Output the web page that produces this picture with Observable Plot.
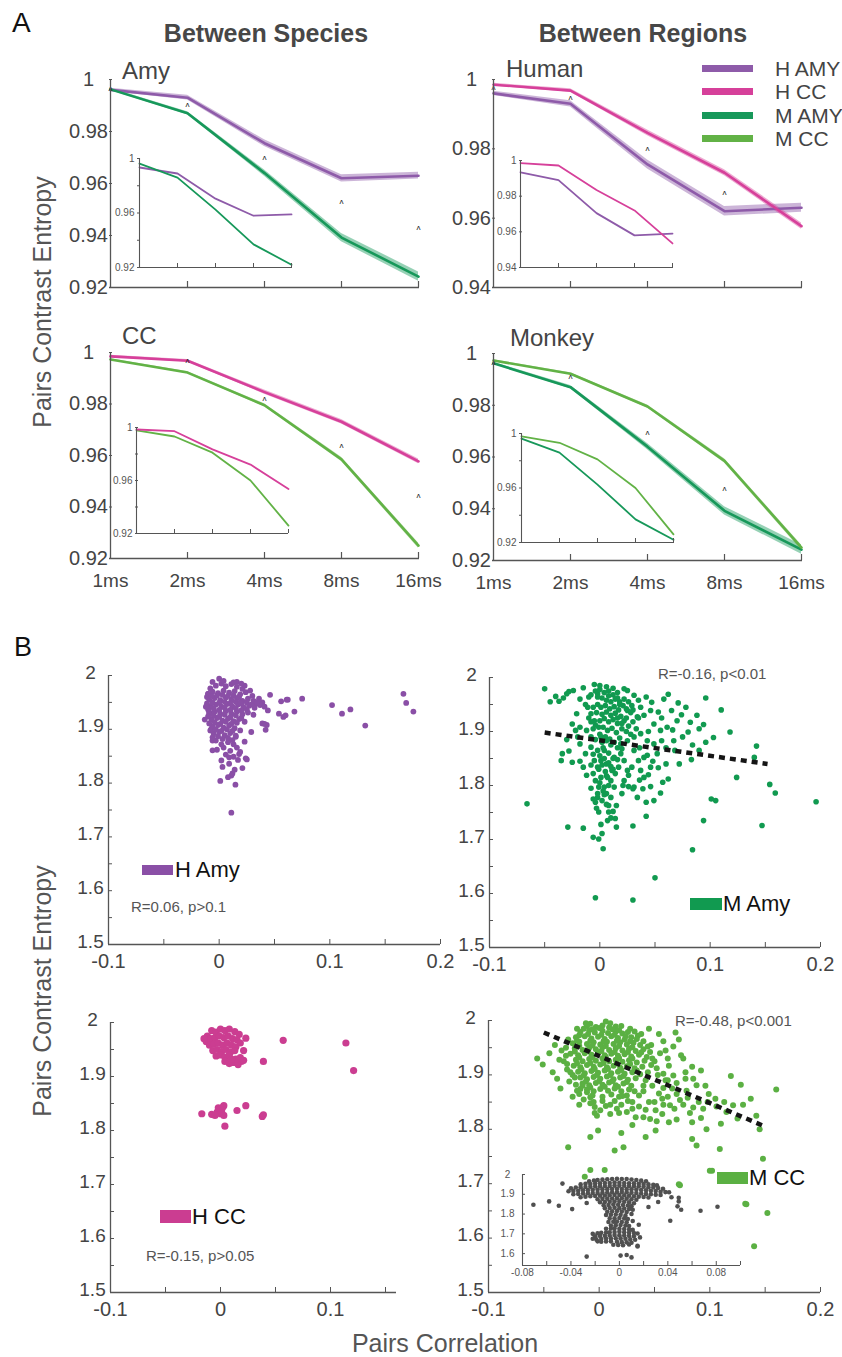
<!DOCTYPE html>
<html><head><meta charset="utf-8">
<script src="https://cdn.jsdelivr.net/npm/d3@7"></script>
<script src="https://cdn.jsdelivr.net/npm/@observablehq/plot@0.6"></script>
<style>
body{margin:0;background:#fff}
#root{position:relative;width:842px;height:1357px;overflow:hidden;background:#fff;font-family:"Liberation Sans",Arial,sans-serif}
.lbl{position:absolute;white-space:nowrap;line-height:1}
.sw{position:absolute}
</style></head>
<body><div id="root"></div>
<script>
// ---------------- DATA ----------------
const times = ["1ms","2ms","4ms","8ms","16ms"];
// panel A main series (mean) and confidence half-width
const hAmyMean = [0.996, 0.993, 0.9755, 0.962, 0.963];
const hAmyCI   = [0.0006, 0.0009, 0.0013, 0.0014, 0.0013];
const hCCMean  = [0.9985, 0.9968, 0.9846, 0.9731, 0.9577];
const hCCCI    = [0.0004, 0.0005, 0.0008, 0.0009, 0.0009];
const mAmyMean = [0.9962, 0.987, 0.964, 0.9392, 0.9242];
const mAmyCI   = [0.0004, 0.0006, 0.0012, 0.0016, 0.0018];
const mCCMean  = [0.9973, 0.9922, 0.9795, 0.9585, 0.925];
const mCCCI    = [0.0003, 0.0004, 0.0006, 0.0008, 0.0010];
// panel A insets
const hAmyInset = [0.9934, 0.989, 0.9705, 0.958, 0.959];
const hCCInset  = [0.9985, 0.9972, 0.9835, 0.972, 0.9535];
const mAmyInset = [0.9963, 0.986, 0.9625, 0.937, 0.922];
const mCCInset  = [0.9979, 0.9932, 0.981, 0.960, 0.926];
// significance markers
const sigAmy    = [["1ms",0.9965],["2ms",0.9904],["4ms",0.970],["8ms",0.953],["16ms",0.943]];
const sigHuman  = [["1ms",0.9977],["2ms",0.9948],["4ms",0.980],["8ms",0.9675]];
const sigCC     = [["2ms",0.9969],["4ms",0.982],["8ms",0.964],["16ms",0.9445]];
const sigMonkey = [["1ms",0.9965],["2ms",0.991],["4ms",0.9695],["8ms",0.948]];
// tick values
const yTicksA = [0.92, 0.94, 0.96, 0.98, 1];
const yTicksHuman = [0.94, 0.96, 0.98, 1];
const yInsetLabA = [0.92, 0.96, 1];
const yTicksB = [1.5, 1.6, 1.7, 1.8, 1.9, 2];
const yMinorB = [1.5,1.55,1.6,1.65,1.7,1.75,1.8,1.85,1.9,1.95,2];
const xTicksB = [-0.1, 0, 0.1, 0.2];
const xTicksHCC = [-0.1, 0, 0.1];
const xMinorB = [-0.05, 0, 0.05, 0.1, 0.15, 0.2];
const xMinorHCC = [-0.05, 0, 0.05, 0.1, 0.15];
const xTicksInset = [-0.08, -0.04, 0, 0.04, 0.08];
const xMinorInset = [-0.06,-0.04,-0.02,0,0.02,0.04,0.06,0.08,0.1];
const yTicksInset = [1.6, 1.7, 1.8, 1.9, 2];

// panel B scatter points [correlation, entropy]
const hAmyPts = [
[0.1665,1.966],[0.169,1.949],[0.1755,1.933],[0.132,1.907],[0.102,1.945],[0.111,1.929],[0.1186,1.937],[0.075,1.957],[0.068,1.933],[0.062,1.955],[0.056,1.952],[0.046,1.964],[0.058,1.923],[0.054,1.929],[0.042,1.899],[0.043,1.908],[0.039,1.911],[0.029,1.895],[0.025,1.844],[0.021,1.828],[0.0147,1.797],[0.011,1.814],[0.008,1.811],[0.001,1.804],[0.011,1.745],[0.002,1.842],[-0.006,1.861],[0.018,1.854],[0.009,1.848],[0.023,1.877],[0.015,1.888],[0.044,1.935],[0.039,1.950],[0.033,1.947],[0.023,1.981],[0.016,1.988],[0.000,1.994],[-0.010,1.966],[-0.009,1.932],[-0.007,1.901],[-0.006,1.879],
[0.024,1.846],[0.041,1.910],[0.060,1.926],[0.061,1.955],[0.035,1.950],[0.012,1.818],
[-0.008,1.976],[-0.003,1.981],[0.002,1.985],[0.006,1.980],[0.011,1.984],[0.016,1.979],[0.021,1.975],
[-0.010,1.966],[-0.006,1.970],[-0.001,1.967],[0.004,1.972],[0.009,1.968],[0.014,1.971],[0.019,1.965],[0.024,1.969],
[-0.009,1.955],[-0.004,1.958],[0.001,1.954],[0.006,1.959],[0.011,1.955],[0.016,1.958],[0.021,1.953],[0.026,1.957],[0.031,1.953],[0.036,1.957],
[-0.008,1.943],[-0.003,1.946],[0.002,1.942],[0.007,1.947],[0.012,1.942],[0.017,1.946],[0.022,1.941],[0.027,1.944],[0.032,1.940],[0.037,1.945],[0.041,1.942],
[-0.009,1.930],[-0.004,1.933],[0.001,1.929],[0.006,1.934],[0.011,1.929],[0.016,1.933],[0.021,1.928],[0.026,1.931],[0.031,1.927],
[-0.007,1.918],[-0.002,1.921],[0.003,1.916],[0.008,1.920],[0.013,1.915],[0.018,1.919],[0.023,1.914],
[-0.006,1.905],[-0.001,1.908],[0.004,1.903],[0.009,1.907],[0.014,1.902],[0.019,1.898],
[-0.005,1.892],[0.000,1.895],[0.005,1.889],[0.010,1.893],[0.015,1.886],
[-0.003,1.879],[0.003,1.882],[0.008,1.876],[0.013,1.872],[0.004,1.866],[-0.002,1.862],[0.010,1.860],[0.016,1.866],[0.006,1.853],[0.013,1.849],[0.019,1.858],
[-0.006,1.988],[0.004,1.990],[0.013,1.987],[-0.011,1.960],[-0.007,1.962],[-0.002,1.963],[0.003,1.964],[0.008,1.962],[0.013,1.963],[0.018,1.960],[-0.011,1.948],[-0.006,1.950],[0.000,1.949],[0.005,1.951],[0.010,1.948],[0.015,1.951],[0.020,1.948],[0.025,1.950],[-0.010,1.937],[-0.005,1.939],[0.000,1.936],[0.005,1.940],[0.010,1.936],[0.015,1.939],[0.020,1.935],[0.025,1.937],[-0.010,1.924],[-0.005,1.926],[0.000,1.923],[0.005,1.927],[0.010,1.922],[0.015,1.926],[0.020,1.921],[-0.009,1.911],[-0.004,1.913],[0.001,1.910],[0.006,1.914],[0.011,1.910],[0.016,1.912],[-0.008,1.898],[-0.003,1.900],[0.002,1.897],[0.007,1.900],[0.012,1.897],[-0.006,1.885],[-0.001,1.887],[0.008,1.884],[0.012,1.880],[0.019,1.950],[0.029,1.946],[0.034,1.950],[0.030,1.962],[0.028,1.972],[0.020,1.985],[-0.012,1.942],[-0.013,1.918],[0.002,1.872],[0.017,1.843],[0.009,1.836],[0.003,1.830],[0.014,1.825]
];
const mAmyPts = [
[-0.050,1.979],[-0.066,1.766],[-0.037,1.956],[-0.030,1.970],[-0.028,1.974],[-0.024,1.976],[-0.015,1.981],[-0.005,1.987],
[-0.034,1.859],[-0.035,1.846],[-0.028,1.864],[-0.025,1.843],[-0.029,1.723],[-0.015,1.721],[-0.018,1.845],[-0.015,1.834],[-0.012,1.819],[-0.006,1.704],[-0.001,1.701],[0.003,1.683],[-0.004,1.592],[0.030,1.588],[0.050,1.629],[0.084,1.681],[0.094,1.735],[0.147,1.726],[0.196,1.770],[0.154,1.802],[0.159,1.786],[0.101,1.775],[0.105,1.772],[0.124,1.815],[0.142,1.873],[0.140,1.852],[0.118,1.899],[0.110,1.940],[0.096,1.962],[0.103,1.889],[0.094,1.913],[0.096,1.880],[0.082,1.917],[0.080,1.899],[0.083,1.848],[0.074,1.931],[0.071,1.953],[0.062,1.969],[0.065,1.939],[0.067,1.883],[0.066,1.903],[0.068,1.865],[0.062,1.812],[0.057,1.806],[0.055,1.786],[0.053,1.833],[0.049,1.772],[0.042,1.769],[0.042,1.743],[0.046,1.798],[0.039,1.794],[0.030,1.725],[0.030,1.794],[0.021,1.800],[0.015,1.763],[0.015,1.723],[0.014,1.739],[0.010,1.740],[0.008,1.763],[0.008,1.751],[0.006,1.785],[0.004,1.783],[0.001,1.728],[-0.001,1.751],[-0.003,1.758],[-0.004,1.769],[-0.006,1.775],[0.007,1.735],[0.002,1.711],
[0.049,1.914],[0.049,1.877],[0.053,1.936],[0.046,1.939],[0.047,1.954],[0.042,1.964],[0.031,1.967],[0.025,1.976],[0.022,1.979],[0.037,1.945],[0.034,1.927],[0.029,1.948],[0.025,1.939],[0.040,1.852],[0.043,1.856],[0.035,1.846],[0.029,1.834],[0.025,1.828],[0.022,1.846],[0.031,1.865],[0.019,1.877],[0.013,1.852],[0.011,1.828],[0.007,1.815],[0.001,1.815],[0.001,1.846],[0.004,1.865],[0.006,1.883],[0.001,1.890],[-0.001,1.908],[-0.005,1.920],[-0.018,1.908],[-0.021,1.933],[-0.025,1.914],[-0.022,1.902],[-0.010,1.964],[-0.011,1.945],[-0.008,1.933],[-0.002,1.970],
[-0.018,1.877],[-0.013,1.859],[-0.008,1.871],[-0.005,1.846],[-0.002,1.834],[-0.004,1.809],[-0.001,1.797],[-0.002,1.785],[0.002,1.772],[0.004,1.797],[0.010,1.809],[0.014,1.822],[0.017,1.834],[0.022,1.809],[0.026,1.819],[0.013,1.797],[0.019,1.859],[0.025,1.883],[0.031,1.890],[0.037,1.896],[0.043,1.883],[0.055,1.902],[0.056,1.883],[0.061,1.908],[0.052,1.859],[0.046,1.834],[0.040,1.815],[0.037,1.828],[0.031,1.797],[0.034,1.778],
[-0.004,1.975],[0.000,1.978],[0.004,1.972],[0.008,1.975],[0.012,1.968],[0.016,1.972],[0.002,1.962],[0.006,1.958],[0.010,1.955],[0.014,1.960],[0.018,1.955],[-0.002,1.950],[0.001,1.945],[0.005,1.948],[0.009,1.942],[0.013,1.946],[0.017,1.940],[0.021,1.948],[-0.003,1.935],[0.002,1.932],[0.006,1.936],[0.010,1.930],[0.014,1.934],[0.019,1.928],[0.000,1.920],[0.004,1.924],[0.008,1.918],[0.012,1.922],[0.016,1.915],[0.022,1.920],[-0.006,1.905],[0.003,1.908],[0.007,1.902],[0.011,1.906],[0.015,1.898],[0.020,1.905],[0.026,1.910],[0.000,1.895],[0.005,1.890],[0.009,1.886],[0.013,1.880],[0.018,1.888],[-0.008,1.890],[0.024,1.925],[0.028,1.935],[0.030,1.918],[0.033,1.905],[-0.010,1.925],[-0.013,1.950],[0.035,1.958],[0.003,1.870],[0.008,1.860],[-0.002,1.865],[0.012,1.850],[0.006,1.840],[-0.001,1.830],[0.005,1.826],[0.010,1.835],
[0.000,1.985],[0.006,1.983],[0.012,1.980],[-0.008,1.968],[-0.002,1.964],[0.008,1.966],[0.016,1.962],[0.022,1.960],[0.026,1.955],[-0.006,1.945],[0.018,1.950],[0.024,1.942],[0.030,1.940],[-0.008,1.918],[-0.004,1.912],[0.016,1.925],[0.020,1.915],[0.024,1.900],[0.028,1.895],[-0.004,1.885],[0.002,1.880],[0.010,1.875],[0.016,1.870],[0.020,1.868],[-0.006,1.858],[0.000,1.855],[0.004,1.850],[0.016,1.848],[0.008,1.842],[-0.008,1.838],[0.002,1.838],[0.012,1.830],[-0.006,1.822],[0.006,1.818],[0.000,1.805],[0.008,1.800],[-0.008,1.795],[0.003,1.790],[-0.002,1.778],[0.010,1.778],[0.006,1.765],[0.012,1.752],[0.020,1.785],[0.026,1.798],[0.036,1.810],[0.044,1.820],[0.048,1.845],[0.036,1.870],[0.044,1.900],[0.040,1.930],[0.035,1.925],[-0.040,1.965],[-0.033,1.962],[-0.045,1.955],[-0.018,1.960],[-0.020,1.890],[-0.030,1.885],[-0.012,1.902],[0.058,1.960],[0.056,1.925],[0.060,1.870],[0.070,1.920],[0.078,1.945],[0.088,1.930],[0.090,1.905],[0.075,1.890],[0.084,1.875],[0.072,1.840],[0.090,1.865],[0.060,1.840]
];
const hCCPts = [
[0.057,1.967],[0.114,1.962],[0.121,1.911],[0.039,1.928],[0.023,1.971],[0.021,1.948],
[-0.017,1.831],[-0.008,1.830],[-0.003,1.834],[0.002,1.843],[0.000,1.831],[0.004,1.808],[0.015,1.837],[0.023,1.846],[0.038,1.826],[0.039,1.829],[-0.002,1.842],[0.001,1.836],[0.003,1.828],[-0.005,1.828],[0.003,1.846],
[-0.012,1.975],[-0.008,1.985],[-0.004,1.982],[0.000,1.988],[0.004,1.985],[0.008,1.988],[0.013,1.983],[0.017,1.978],[-0.013,1.965],[-0.009,1.970],[-0.005,1.972],[-0.001,1.975],[0.003,1.972],[0.007,1.975],[0.011,1.970],[0.015,1.968],[-0.010,1.958],[-0.006,1.960],[-0.002,1.962],[0.002,1.958],[0.006,1.962],[0.010,1.958],[0.014,1.955],[-0.007,1.948],[-0.003,1.950],[0.001,1.946],[0.005,1.950],[0.009,1.945],[0.013,1.948],[-0.004,1.938],[0.000,1.940],[0.004,1.936],[0.008,1.940],[0.004,1.928],[0.008,1.924],[0.012,1.926],[0.016,1.922],[0.019,1.928],[0.014,1.932],[0.010,1.932],[0.018,1.935],[0.021,1.930],[-0.015,1.970],[0.018,1.962]
];
const mCCPts = [
[-0.056,1.930],[-0.051,1.919],[-0.038,1.893],[-0.027,1.888],[-0.036,1.928],[-0.034,1.945],[-0.029,1.920],[-0.026,1.905],[-0.028,1.767],[-0.008,1.786],[-0.001,1.798],[0.014,1.761],[0.022,1.767],[0.020,1.793],[0.042,1.786],[0.016,1.838],[-0.002,1.825],[0.001,1.835],[-0.004,1.841],[-0.008,1.859],[-0.011,1.868],[-0.017,1.874],[-0.020,1.871],
[0.051,1.798],[0.046,1.819],[0.042,1.836],[0.051,1.835],[0.057,1.828],[0.063,1.813],[0.064,1.844],[0.057,1.856],[0.058,1.876],[0.073,1.854],[0.084,1.782],[0.088,1.770],[0.084,1.813],[0.092,1.821],[0.090,1.850],[0.079,1.871],[0.078,1.893],[0.070,1.885],[0.067,1.899],[0.063,1.917],[0.076,1.930],[0.074,1.936],[0.067,1.952],[0.060,1.945],[0.069,1.978],[0.085,1.893],[0.088,1.881],[0.099,1.865],[0.105,1.856],[0.109,1.764],[0.119,1.898],[0.128,1.882],[0.113,1.850],[0.121,1.844],[0.137,1.856],[0.142,1.825],[0.160,1.873],[0.148,1.746],[0.102,1.724],[0.073,1.697],[0.005,1.725],[-0.008,1.725],[-0.013,1.713],[0.132,1.663],[0.072,1.699],[0.100,1.724],[0.133,1.662],[0.152,1.646],[0.140,1.585],
[0.030,1.850],[0.036,1.842],[0.025,1.832],[0.033,1.822],[0.045,1.850],[0.040,1.870],[0.048,1.880],[0.053,1.900],[0.050,1.925],[0.055,1.940],[0.047,1.955],[0.060,1.890],[0.010,1.845],[0.003,1.852],[-0.005,1.850],[0.018,1.860],[0.025,1.862],[-0.015,1.880],[-0.022,1.895],[-0.030,1.950],[-0.028,1.965],[-0.020,1.985],[0.010,1.995],[-0.008,1.994],[0.028,1.985],[0.035,1.972],
[-0.011,1.990],[-0.003,1.988],[0.003,1.991],[0.009,1.987],[0.015,1.989],
[-0.017,1.979],[-0.009,1.982],[-0.004,1.978],[0.003,1.981],[0.008,1.977],[0.015,1.980],[0.021,1.976],[0.026,1.979],
[-0.021,1.969],[-0.013,1.971],[-0.007,1.967],[-0.001,1.970],[0.005,1.966],[0.011,1.971],[0.017,1.968],[0.023,1.965],[0.029,1.969],[0.034,1.966],
[-0.024,1.958],[-0.018,1.961],[-0.011,1.957],[-0.005,1.960],[0.001,1.956],[0.007,1.961],[0.013,1.957],[0.019,1.960],[0.025,1.956],[0.031,1.959],[0.037,1.955],
[-0.022,1.949],[-0.015,1.946],[-0.009,1.950],[-0.003,1.947],[0.003,1.951],[0.009,1.946],[0.015,1.949],[0.021,1.945],[0.027,1.948],[0.033,1.944],[0.040,1.947],
[-0.026,1.939],[-0.019,1.936],[-0.013,1.940],[-0.007,1.937],[-0.001,1.941],[0.005,1.936],[0.011,1.939],[0.017,1.935],[0.023,1.938],[0.029,1.934],[0.036,1.937],[0.043,1.933],
[-0.021,1.928],[-0.015,1.925],[-0.009,1.929],[-0.003,1.926],[0.003,1.930],[0.009,1.925],[0.015,1.928],[0.021,1.924],[0.027,1.927],[0.034,1.923],[0.041,1.926],
[-0.023,1.917],[-0.017,1.914],[-0.011,1.918],[-0.005,1.915],[0.001,1.919],[0.007,1.914],[0.013,1.917],[0.019,1.913],[0.025,1.916],[0.032,1.912],[0.039,1.915],
[-0.019,1.906],[-0.013,1.903],[-0.007,1.907],[-0.001,1.904],[0.005,1.908],[0.011,1.903],[0.017,1.906],[0.023,1.902],[0.030,1.905],[0.037,1.901],
[-0.017,1.895],[-0.011,1.892],[-0.005,1.896],[0.001,1.893],[0.007,1.897],[0.013,1.892],[0.019,1.895],[0.026,1.891],[0.033,1.894],
[-0.015,1.884],[-0.009,1.881],[-0.003,1.885],[0.003,1.882],[0.009,1.886],[0.015,1.881],[0.022,1.884],[0.029,1.880],
[-0.011,1.873],[-0.005,1.870],[0.001,1.874],[0.008,1.871],[0.014,1.875],[0.020,1.870],[0.027,1.873],
[-0.006,1.862],[0.003,1.860],[0.011,1.864],[0.021,1.861],
[-0.012,1.995],[0.006,1.998],[0.020,1.990],[0.032,1.980],[0.038,1.975],[0.040,1.962],[0.044,1.952],[0.046,1.942],[0.048,1.930],[0.047,1.918],[0.044,1.905],[0.042,1.890],[0.040,1.880],[0.036,1.862],[0.032,1.870],[-0.030,1.935],[-0.032,1.925],[-0.029,1.910],[-0.024,1.900],[-0.021,1.882],[-0.018,1.865],[-0.014,1.855],[-0.008,1.848],[0.006,1.843],[0.014,1.852],[0.020,1.845],[0.026,1.852],[0.030,1.838],[0.018,1.830],[0.010,1.828],[-0.004,1.830],[0.052,1.912],[0.058,1.902],[0.062,1.890],[0.066,1.875],[0.070,1.865],[0.062,1.860],[0.054,1.866],[0.050,1.850],[0.058,1.845],[0.068,1.838],[0.076,1.845],[0.080,1.858],[0.085,1.840],[0.082,1.830],[0.094,1.838],[0.098,1.850],[0.106,1.842],[0.096,1.880],[0.092,1.908],[0.084,1.915],[0.062,1.930],[0.058,1.962],[0.054,1.975],[0.045,1.985],[0.072,1.965],[0.078,1.905],[0.052,1.815],[0.040,1.822],[0.070,1.818],[0.030,1.808],[-0.018,1.845],[-0.024,1.860],[-0.035,1.875],[-0.042,1.905],[-0.045,1.940],[-0.040,1.955],[0.115,1.832],[0.125,1.820],[0.130,1.845],[0.097,1.800],[0.110,1.810],[0.145,1.800],
[-0.014,1.985],[-0.006,1.984],[0.000,1.986],[0.012,1.984],[0.018,1.982],[-0.018,1.973],[-0.010,1.975],[0.002,1.974],[0.014,1.974],[0.024,1.971],[-0.020,1.963],[-0.008,1.963],[0.004,1.962],[0.016,1.963],[0.028,1.962],[-0.018,1.953],[-0.006,1.954],[0.006,1.953],[0.018,1.953],[0.030,1.951],[-0.022,1.943],[-0.010,1.944],[0.002,1.944],[0.014,1.942],[0.026,1.942],[0.038,1.941],[-0.018,1.932],[-0.006,1.932],[0.006,1.933],[0.018,1.931],[0.030,1.930],[-0.020,1.921],[-0.008,1.922],[0.004,1.922],[0.016,1.921],[0.028,1.920],[-0.016,1.910],[-0.004,1.911],[0.008,1.911],[0.020,1.909],[0.034,1.908],[-0.014,1.899],[-0.002,1.900],[0.010,1.900],[0.022,1.898],[-0.012,1.888],[0.000,1.889],[0.012,1.889],[0.025,1.887],[-0.008,1.877],[0.005,1.878],[0.017,1.878]
];
const mCCInsetPts = [
[-0.071,1.847],[-0.058,1.864],[-0.050,1.842],[-0.047,1.954],[-0.039,1.825],[-0.027,1.856],[-0.027,1.585],[0.001,1.590],[0.006,1.593],[0.010,1.581],[0.043,1.885],[0.049,1.882],[0.049,1.864],[0.048,1.839],[0.051,1.822],[0.042,1.766],[0.067,1.817],[0.081,1.837],[0.024,1.836],[0.032,1.861],[0.016,1.746],[0.015,1.636],
[-0.025,1.965],[-0.021,1.970],[-0.018,1.972],[-0.014,1.974],[-0.010,1.976],[-0.006,1.977],[-0.002,1.978],[0.002,1.977],[0.006,1.977],[0.010,1.975],[0.014,1.972],[0.018,1.969],[0.022,1.966],
[-0.032,1.950],[-0.028,1.953],[-0.024,1.952],[-0.020,1.955],[-0.016,1.955],[-0.012,1.957],[-0.008,1.957],[-0.004,1.959],[0.000,1.958],[0.004,1.957],[0.008,1.956],[0.012,1.955],[0.016,1.953],[0.020,1.952],[0.024,1.950],[0.028,1.948],[0.031,1.946],
[-0.040,1.930],[-0.036,1.934],[-0.032,1.935],[-0.028,1.937],[-0.024,1.938],[-0.020,1.940],[-0.016,1.940],[-0.012,1.942],[-0.008,1.942],[-0.004,1.944],[0.000,1.944],[0.004,1.943],[0.008,1.942],[0.012,1.941],[0.016,1.940],[0.020,1.938],[0.024,1.936],[0.028,1.934],[0.032,1.932],[0.036,1.928],
[-0.042,1.915],[-0.038,1.917],[-0.034,1.918],[-0.030,1.920],[-0.026,1.921],[-0.022,1.923],[-0.018,1.924],[-0.014,1.925],[-0.010,1.926],[-0.006,1.927],[-0.002,1.928],[0.002,1.927],[0.006,1.926],[0.010,1.925],[0.014,1.924],[0.018,1.922],[0.022,1.920],[0.026,1.918],[0.030,1.916],[0.034,1.913],[0.038,1.911],[0.041,1.910],
[-0.038,1.900],[-0.034,1.902],[-0.030,1.904],[-0.026,1.905],[-0.022,1.906],[-0.018,1.907],[-0.014,1.908],[-0.010,1.909],[-0.006,1.910],[-0.002,1.911],[0.002,1.912],[0.006,1.910],[0.010,1.908],[0.014,1.906],[0.018,1.904],[0.022,1.902],[0.026,1.900],[0.030,1.898],[0.034,1.896],
[-0.032,1.885],[-0.028,1.888],[-0.024,1.890],[-0.020,1.891],[-0.016,1.893],[-0.012,1.894],[-0.008,1.895],[-0.004,1.896],[0.000,1.896],[0.004,1.895],[0.008,1.893],[0.012,1.890],[0.016,1.888],[0.020,1.886],[0.024,1.884],
[-0.018,1.875],[-0.014,1.877],[-0.010,1.878],[-0.006,1.879],[-0.002,1.880],[0.002,1.880],[0.006,1.878],[0.010,1.875],[0.014,1.872],
[-0.016,1.860],[-0.012,1.861],[-0.008,1.862],[-0.004,1.863],[0.000,1.864],[0.004,1.862],[0.008,1.860],[0.012,1.855],
[-0.013,1.845],[-0.009,1.846],[-0.005,1.848],[-0.001,1.847],[0.003,1.846],[0.007,1.843],[0.010,1.840],
[-0.012,1.830],[-0.008,1.831],[-0.004,1.832],[0.000,1.830],[0.004,1.828],[0.008,1.825],[0.011,1.822],
[-0.010,1.812],[-0.006,1.814],[-0.002,1.815],[0.002,1.813],[0.006,1.810],
[-0.011,1.795],[-0.007,1.797],[-0.003,1.798],[0.001,1.796],[0.005,1.792],[0.010,1.800],
[-0.008,1.778],[-0.004,1.779],[0.000,1.780],[0.004,1.778],[0.007,1.775],
[-0.009,1.760],[-0.005,1.761],[-0.002,1.762],[0.002,1.760],[0.006,1.758],[0.011,1.765],
[-0.007,1.742],[-0.003,1.744],[0.001,1.745],[0.005,1.742],[0.008,1.740],
[-0.011,1.726],[-0.007,1.727],[-0.004,1.728],[0.000,1.726],[0.004,1.724],[0.008,1.722],[0.011,1.720],
[-0.022,1.700],[-0.018,1.703],[-0.015,1.705],[-0.011,1.707],[-0.008,1.708],[-0.004,1.709],[0.000,1.710],[0.004,1.708],[0.008,1.706],[0.012,1.704],[0.015,1.702],
[-0.020,1.688],[-0.016,1.689],[-0.012,1.690],[-0.008,1.692],[-0.004,1.694],[0.000,1.693],[0.004,1.692],[0.008,1.690],[0.012,1.688],[0.017,1.682],
[-0.022,1.675],[-0.019,1.672],[-0.015,1.674],[-0.011,1.676],[-0.007,1.677],[-0.003,1.678],[0.001,1.677],[0.005,1.675],[0.009,1.672],[0.013,1.670],
[-0.018,1.662],[-0.015,1.660],[-0.011,1.661],[-0.007,1.662],[-0.002,1.660],[0.002,1.658],[0.006,1.657],[0.010,1.655],
[-0.005,1.645],[-0.001,1.644],[0.003,1.642],[0.008,1.646],[0.015,1.640]
];
const fitMAmy = [[-0.05, 1.898], [0.152, 1.84]];
const fitMCC  = [[-0.05, 1.978], [0.15, 1.805]];

// ---------------- COLOURS / FONTS ----------------
const C = {hAmy:"#8E5BA9", hCC:"#D6409A", mAmy:"#17985A", mCC:"#62B246"};
const CS = {hAmy:"#8A4FA6", hCC:"#CB3D91", mAmy:"#119A50", mCC:"#5BB043", inset:"#505050"};
const AX = "#555";
const NARROW = '"Liberation Sans Narrow","Liberation Sans",Arial,sans-serif';
const REG = '"Liberation Sans",Arial,sans-serif';
const root = document.getElementById("root");

function mk(o){
  const ml=o.ml??50, mr=o.mr??14, mt=o.mt??12, mb=o.mb??40;
  const svg = Plot.plot({
    width: o.x1-o.x0+ml+mr, height: o.y1-o.y0+mt+mb,
    marginLeft: ml, marginRight: mr, marginTop: mt, marginBottom: mb,
    x: o.x, y: o.y,
    style: {background:"transparent", overflow:"visible", fontFamily: NARROW, color:"#444"},
    marks: o.marks.filter(Boolean)
  });
  svg.style.position="absolute";
  svg.style.left=(o.x0-ml)+"px";
  svg.style.top=(o.y0-mt)+"px";
  root.appendChild(svg);
}
const fmt = d => String(d);

function panelA(o){
  const W=o.x1-o.x0, H=o.y1-o.y0;
  mk({x0:o.x0,x1:o.x1,y0:o.y0,y1:o.y1,
    x:{type:"point", domain:times, padding:0, ...(o.showX?{}:{axis:null})},
    y:{domain:o.yDomain},
    marks:[
      ...o.series.map(s=>Plot.areaY(s.mean,{x:times, y1:s.mean.map((v,i)=>v-s.ci[i]), y2:s.mean.map((v,i)=>v+s.ci[i]), fill:s.color, fillOpacity:0.45})),
      ...o.series.map(s=>Plot.lineY(s.mean,{x:times, stroke:s.color, strokeWidth:2.6})),
      Plot.text(o.sig,{x:d=>d[0], y:d=>d[1], text:()=>"ʌ", fontSize:8, fill:"#222", fontFamily:REG}),
      Plot.ruleX([times[0]],{stroke:AX, strokeWidth:1.3}),
      Plot.ruleY([o.yDomain[0]],{stroke:AX, strokeWidth:1.3}),
      Plot.tickY(o.yTicks,{y:d=>d, stroke:AX, insetRight:W-3}),
      Plot.tickX(times.slice(1),{x:d=>d, stroke:AX, insetTop:H-6, strokeWidth:1.2}),
      Plot.axisY({ticks:o.yTicks, tickSize:0, tickPadding:21, textAnchor:"middle", tickFormat:fmt, fontSize:20}),
      o.showX ? Plot.axisX({tickSize:0, tickPadding:15, fontSize:19}) : null
    ]});
}
function insetA(o){
  const W=o.x1-o.x0, H=o.y1-o.y0;
  mk({x0:o.x0,x1:o.x1,y0:o.y0,y1:o.y1, ml:30, mr:6, mt:6, mb:6,
    x:{type:"point", domain:times, padding:0, axis:null},
    y:{domain:o.yDomain},
    marks:[
      ...o.series.map(s=>Plot.lineY(s.vals,{x:times, stroke:s.color, strokeWidth:1.8})),
      Plot.ruleX([times[0]],{stroke:AX, strokeWidth:1.1}),
      Plot.ruleY([o.yDomain[0]],{stroke:AX, strokeWidth:1.1}),
      Plot.tickY(o.yTicks,{y:d=>d, stroke:AX, insetRight:W-3}),
      Plot.tickX(times.slice(1),{x:d=>d, stroke:AX, insetTop:H-4}),
      Plot.axisY({ticks:o.yLab, tickSize:0, tickPadding:3, tickFormat:fmt, fontSize:10, fill:"#555"})
    ]});
}
function panelB(o){
  const W=o.x1-o.x0, H=o.y1-o.y0;
  mk({x0:o.x0,x1:o.x1,y0:o.y0,y1:o.y1,
    x:{domain:o.xDomain}, y:{domain:[1.5,2]},
    marks:[
      Plot.dot(o.pts,{x:d=>d[0], y:d=>d[1], r:o.r, fill:o.color}),
      o.fit ? Plot.line(o.fit,{x:d=>d[0], y:d=>d[1], stroke:"#151515", strokeWidth:4.5, strokeDasharray:"6 5", strokeLinecap:"butt"}) : null,
      Plot.ruleX([o.xDomain[0]],{stroke:AX, strokeWidth:1.3}),
      Plot.ruleY([1.5],{stroke:AX, strokeWidth:1.3}),
      Plot.tickY(yMinorB,{y:d=>d, stroke:AX, insetRight:W-4}),
      Plot.tickX(o.xMinor,{x:d=>d, stroke:AX, insetTop:H-5}),
      Plot.axisY({ticks:yTicksB, tickSize:0, tickPadding:18, textAnchor:"middle", tickFormat:fmt, fontSize:19, dy:-3}),
      Plot.axisX({ticks:o.xTicks, tickSize:0, tickPadding:9, tickFormat:fmt, fontSize:20})
    ]});
}

// ---------------- PANEL A ----------------
const S = {
  hAmy:{mean:hAmyMean, ci:hAmyCI, color:C.hAmy},
  hCC:{mean:hCCMean, ci:hCCCI, color:C.hCC},
  mAmy:{mean:mAmyMean, ci:mAmyCI, color:C.mAmy},
  mCC:{mean:mCCMean, ci:mCCCI, color:C.mCC}
};
panelA({x0:109,x1:419,y0:79,y1:287, yDomain:[0.92,1], yTicks:yTicksA, series:[S.hAmy,S.mAmy], sig:sigAmy, showX:false});
insetA({x0:137,x1:292,y0:158,y1:267, yDomain:[0.92,1], yTicks:yTicksA, yLab:yInsetLabA,
  series:[{vals:hAmyInset,color:C.hAmy},{vals:mAmyInset,color:C.mAmy}]});

panelA({x0:492,x1:802,y0:79,y1:287, yDomain:[0.94,1], yTicks:yTicksHuman, series:[S.hAmy,S.hCC], sig:sigHuman, showX:false});
insetA({x0:519,x1:673,y0:160,y1:267, yDomain:[0.94,1], yTicks:yTicksHuman, yLab:yTicksHuman,
  series:[{vals:hAmyInset,color:C.hAmy},{vals:hCCInset,color:C.hCC}]});

panelA({x0:109,x1:419,y0:352,y1:558, yDomain:[0.92,1], yTicks:yTicksA, series:[S.mCC,S.hCC], sig:sigCC, showX:true});
insetA({x0:135,x1:288,y0:427,y1:533, yDomain:[0.92,1], yTicks:yTicksA, yLab:yInsetLabA,
  series:[{vals:mCCInset,color:C.mCC},{vals:hCCInset,color:C.hCC}]});

panelA({x0:492,x1:802,y0:353,y1:560, yDomain:[0.92,1], yTicks:yTicksA, series:[S.mAmy,S.mCC], sig:sigMonkey, showX:true});
insetA({x0:519,x1:674,y0:433,y1:542, yDomain:[0.92,1], yTicks:yTicksA, yLab:yInsetLabA,
  series:[{vals:mAmyInset,color:C.mAmy},{vals:mCCInset,color:C.mCC}]});

// ---------------- PANEL B ----------------
panelB({x0:108,x1:440,y0:675,y1:944, xDomain:[-0.1,0.2], xTicks:xTicksB, xMinor:xMinorB, pts:hAmyPts, color:CS.hAmy, r:2.9});
panelB({x0:489,x1:820,y0:677,y1:947, xDomain:[-0.1,0.2], xTicks:xTicksB, xMinor:xMinorB, pts:mAmyPts, color:CS.mAmy, r:2.8, fit:fitMAmy});
panelB({x0:110,x1:396,y0:1022,y1:1292, xDomain:[-0.1,0.16], xTicks:xTicksHCC, xMinor:xMinorHCC, pts:hCCPts, color:CS.hCC, r:3.6});
panelB({x0:488,x1:820,y0:1020,y1:1292, xDomain:[-0.1,0.2], xTicks:xTicksB, xMinor:xMinorB, pts:mCCPts, color:CS.mCC, r:3.0, fit:fitMCC});
// inset in M CC
(function(){
  const x0=522,x1=740,y0=1174,y1=1265, W=x1-x0, H=y1-y0;
  mk({x0,x1,y0,y1, ml:30, mr:8, mt:6, mb:20,
    x:{domain:[-0.08,0.1]}, y:{domain:[1.54,2]},
    marks:[
      Plot.dot(mCCInsetPts,{x:d=>d[0], y:d=>d[1], r:2.3, fill:CS.inset}),
      Plot.ruleX([-0.08],{stroke:AX, strokeWidth:1.1}),
      Plot.ruleY([1.54],{stroke:AX, strokeWidth:1.1}),
      Plot.tickY(yTicksInset,{y:d=>d, stroke:AX, insetRight:W-3}),
      Plot.tickX(xMinorInset,{x:d=>d, stroke:AX, insetTop:H-4}),
      Plot.axisY({ticks:yTicksInset, tickSize:0, tickPadding:15, textAnchor:"middle", tickFormat:fmt, fontSize:10, fill:"#555"}),
      Plot.axisX({ticks:xTicksInset, tickSize:0, tickPadding:3, tickFormat:fmt, fontSize:10, fill:"#555"})
    ]});
})();

// ---------------- TEXT ----------------
function lab(t,x,y,o={}){
  const d=document.createElement("div");
  d.className="lbl"; d.textContent=t;
  const s=d.style;
  s.left=x+"px"; s.top=y+"px";
  s.fontSize=(o.size||20)+"px";
  s.fontWeight=o.weight||"normal";
  s.color=o.color||"#444";
  s.fontFamily=o.family||REG;
  const ax = o.anchor==="middle"?"-50%":o.anchor==="end"?"-100%":"0";
  s.transform=`translate(${ax},-50%)`+(o.rotate?` rotate(${o.rotate}deg)`:"");
  root.appendChild(d);
}
function sw(x,y,w,h,color){
  const d=document.createElement("div"); d.className="sw";
  Object.assign(d.style,{left:x+"px",top:y+"px",width:w+"px",height:h+"px",background:color});
  root.appendChild(d);
}
lab("A",12,23,{size:28,color:"#111"});
lab("B",14,647,{size:27,color:"#111"});
lab("Between Species",266,33,{size:25,weight:"bold",anchor:"middle",color:"#474747"});
lab("Between Regions",643,33,{size:25,weight:"bold",anchor:"middle",color:"#474747"});
lab("Amy",122,71,{size:24});
lab("Human",506,69,{size:24});
lab("CC",122,336,{size:24});
lab("Monkey",510,338,{size:24});
// legend A
const legA = [["H AMY",C.hAmy,68],["H CC",C.hCC,91],["M AMY",C.mAmy,115],["M CC",C.mCC,138]];
legA.forEach(([t,c,y])=>{ sw(702,y-3.5,51,7,c); lab(t,775,y,{size:21,family:NARROW}); });
lab("Pairs  Contrast Entropy",42,302,{size:25,anchor:"middle",rotate:-90,color:"#555"});
lab("Pairs  Contrast Entropy",42,991,{size:25,anchor:"middle",rotate:-90,color:"#555"});
lab("Pairs Correlation",445,1343,{size:25,anchor:"middle",color:"#555"});
// R statistics
lab("R=0.06, p>0.1",131,906,{size:15,family:NARROW,color:"#555"});
lab("R=-0.16, p<0.01",658,673,{size:15,family:NARROW,color:"#555"});
lab("R=-0.15, p>0.05",146,1255,{size:15,family:NARROW,color:"#555"});
lab("R=-0.48, p<0.001",675,1020,{size:15,family:NARROW,color:"#555"});
// legends B
sw(142,865,31,10,CS.hAmy); lab("H Amy",175,870,{size:22,color:"#111"});
sw(690,898,32,12,CS.mAmy); lab("M Amy",723,904,{size:22,color:"#111"});
sw(160,1210,31,13,CS.hCC); lab("H CC",192,1217,{size:22,color:"#111"});
sw(717,1172,31,12,CS.mCC); lab("M CC",749,1178,{size:22,color:"#111"});
</script>
</body></html>
